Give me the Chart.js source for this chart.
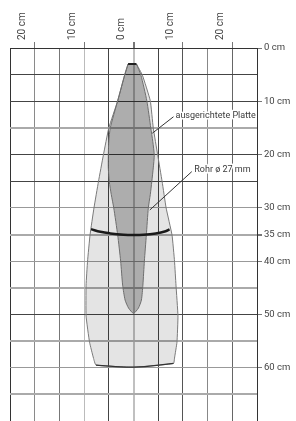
<!DOCTYPE html>
<html>
<head>
<meta charset="utf-8">
<script src="https://cdn.jsdelivr.net/npm/chart.js@4"></script>
<style>
  html, body { margin: 0; padding: 0; background: #fff; }
  #wrap { width: 296px; height: 421px; }
</style>
</head>
<body>
<div id="wrap"><canvas id="spray"></canvas></div>
<script>
// depth (cm, downwards) and side offsets (cm) of the inner, darker shape
const innerDepth = [3, 5.1, 9.9, 15, 17.5, 20.1, 22.5, 25.1, 27.5, 30, 35.1, 40, 44.5, 47.3, 48.8];
const innerLeft = [-1.1, -1.8, -3.2, -4.7, -5.0, -5.1, -5.1, -4.9, -4.5, -4.0, -3.2, -2.6, -2.2, -1.7, -1.0];
const innerRight = [0.6, 1.5, 2.7, 3.5, 3.9, 4.2, 4.0, 3.7, 3.4, 3.0, 2.6, 2.2, 1.9, 1.6, 1.0];
const innerTip = { x: 0, y: 49.8 };

// outer, lighter shape
const outerDepth = [3, 5.1, 9.9, 15, 20.1, 25.1, 30, 35.1, 40, 44.5, 50.3, 55.2, 58.2];
const outerLeft = [-1.1, -1.8, -3.2, -5.0, -6.1, -7.1, -8.0, -8.8, -9.3, -9.6, -9.6, -8.9, -8.1];
const outerRight = [0.6, 1.8, 3.4, 4.0, 4.9, 5.8, 6.6, 7.8, 8.3, 8.6, 9.0, 8.8, 8.3];

// bottom edge of the outer shape at ~60 cm
const bottomX = [8.1, 0, -7.6];
const bottomY = [59.2, 59.9, 59.5];

// thick curve at 35 cm
const arcX = [-8.6, -6.7, -4.7, -2, 0, 2, 4.5, 6.5, 7.3];
const arcY = [34.0, 34.5, 34.8, 35.05, 35.1, 35.05, 34.8, 34.4, 34.05];

// callouts
const calloutText = ['ausgerichtete Platte', 'Rohr ø 27 mm'];
const calloutAt = [{ x: 8.5, y: 12.75 }, { x: 12.3, y: 22.9 }];
const calloutFrom = [{ x: 8.1, y: 12.9 }, { x: 11.8, y: 23.2 }];
const calloutTo = [{ x: 3.8, y: 16.0 }, { x: 3.3, y: 30.4 }];

// labelled ticks
const topTicks = [-20, -10, 0, 10, 20];
const sideTicks = [0, 10, 20, 30, 35, 40, 50, 60];

const zip = (xs, ys) => xs.map((x, i) => ({ x, y: ys[i] }));

const innerPoly = [
  ...zip(innerRight, innerDepth),
  innerTip,
  ...zip(innerLeft, innerDepth).reverse(),
];
const bottomLine = zip(bottomX, bottomY);
const outerPoly = [
  ...zip(outerRight, outerDepth),
  ...bottomLine,
  ...zip(outerLeft, outerDepth).reverse(),
];

const xGridColor = {
  '-25': '#333', '-20': '#8a8a8a', '-15': '#777', '-10': '#bbb', '-5': '#444',
  '0': '#c0c0c0', '5': '#444', '10': '#555', '15': '#888', '20': '#666', '25': '#333',
};
const yGridColor = {
  0: '#333', 5: '#444', 10: '#444', 15: '#aaa', 20: '#444', 25: '#444', 30: '#999',
  35: '#aaa', 40: '#999', 45: '#aaa', 50: '#444', 55: '#aaa', 60: '#999', 65: '#aaa', 70: '#444',
};
const yGridWidth = { 15: 2, 35: 2, 45: 2, 55: 2, 65: 2 };

const calloutLabels = {
  id: 'calloutLabels',
  afterDatasetsDraw(chart) {
    const { ctx, scales } = chart;
    ctx.save();
    ctx.font = '9px Roboto';
    ctx.textBaseline = 'middle';
    ctx.textAlign = 'left';
    ctx.lineJoin = 'round';
    calloutText.forEach((t, i) => {
      const px = scales.x.getPixelForValue(calloutAt[i].x);
      const py = scales.y.getPixelForValue(calloutAt[i].y);
      ctx.strokeStyle = '#fff';
      ctx.lineWidth = 3;
      ctx.strokeText(t, px, py);
      ctx.fillStyle = '#3a3a3a';
      ctx.fillText(t, px, py);
    });
    ctx.restore();
  },
};

const line = (data, color, width, extra) => Object.assign({
  data,
  showLine: true,
  borderColor: color,
  borderWidth: width,
  pointRadius: 0,
  fill: false,
}, extra || {});

new Chart(document.getElementById('spray'), {
  type: 'scatter',
  data: {
    datasets: [
      line([calloutFrom[0], calloutTo[0]], '#333', 1),
      line([calloutFrom[1], calloutTo[1]], '#333', 1),
      line(zip(arcX, arcY), '#1a1a1a', 2.5, { tension: 0.4 }),
      line(bottomLine, '#333', 1.3, { tension: 0.4 }),
      line([{ x: innerLeft[0], y: innerDepth[0] }, { x: innerRight[0], y: innerDepth[0] }], '#222', 2),
      line(innerPoly, '#6e6e6e', 1, { fill: 'shape', backgroundColor: 'rgba(0,0,0,0.245)', tension: 0.2 }),
      line(outerPoly, '#7a7a7a', 1, { fill: 'shape', backgroundColor: 'rgba(0,0,0,0.105)', tension: 0.12 }),
    ],
  },
  plugins: [calloutLabels],
  options: {
    responsive: true,
    maintainAspectRatio: false,
    animation: false,
    layout: { padding: { left: 10, right: 0, top: 0, bottom: 0 } },
    plugins: { legend: { display: false }, tooltip: { enabled: false } },
    scales: {
      x: {
        type: 'linear',
        position: 'top',
        min: -25,
        max: 25,
        afterFit: (s) => {
          s.height = 48;
          s.paddingLeft = 0;
          s.paddingRight = 0;
        },
        ticks: {
          stepSize: 5,
          autoSkip: false,
          minRotation: 90,
          maxRotation: 90,
          padding: 2,
          color: '#444',
          font: { family: 'Roboto', size: 10 },
          callback: (v) => (topTicks.includes(v) ? Math.abs(v) + ' cm' : ''),
        },
        grid: {
          color: (c) => xGridColor[String(c.tick.value)] || '#555',
          lineWidth: (c) => (c.tick.value === 0 ? 2 : 1),
          tickLength: 6,
          tickColor: (c) => (topTicks.includes(c.tick.value) ? '#777' : 'rgba(0,0,0,0)'),
        },
        border: { color: '#333', width: 1 },
      },
      y: {
        type: 'linear',
        position: 'right',
        reverse: true,
        min: 0,
        max: 70,
        afterFit: (s) => {
          s.width = 39;
          s.paddingTop = 0;
          s.paddingBottom = 0;
        },
        ticks: {
          stepSize: 5,
          autoSkip: false,
          padding: 2,
          color: '#444',
          font: { family: 'Roboto', size: 9.5 },
          callback: (v) => (sideTicks.includes(v) ? v + ' cm' : ''),
        },
        grid: {
          color: (c) => yGridColor[c.tick.value] || '#555',
          lineWidth: (c) => yGridWidth[c.tick.value] || 1,
          tickLength: 5,
          tickColor: (c) => (sideTicks.includes(c.tick.value) ? '#777' : 'rgba(0,0,0,0)'),
        },
        border: { color: '#333', width: 1 },
      },
    },
  },
});
</script>
</body>
</html>
